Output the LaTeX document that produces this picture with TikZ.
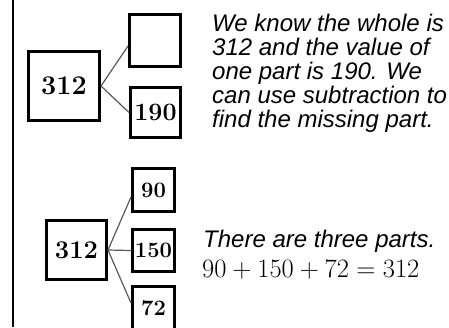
\documentclass[tikz,border=0pt]{standalone}
\usepackage{fontspec}
\newfontfamily\arialf{Liberation Sans}
\begin{document}
\begin{tikzpicture}[x=1pt,y=-1pt,
  numbox/.style={draw, line width=2.6pt, inner sep=0pt},
  link/.style={draw=black!65, line width=1.2pt},
  expl/.style={anchor=base west, inner sep=0pt, font=\arialf\itshape\fontsize{24}{24}\selectfont}]
\useasboundingbox (0,0) rectangle (449,327);
\draw[line width=1.5pt] (13,0) -- (13,327);

% top part-whole model
\node[numbox, minimum width=71.4pt, minimum height=69.4pt, font=\bfseries\fontsize{27}{27}\selectfont] (w1) at (64,86) {312};
\node[numbox, minimum width=51.4pt, minimum height=52.4pt] (p1) at (155,40.5) {};
\node[numbox, minimum width=50.4pt, minimum height=50.4pt, font=\bfseries\fontsize{25}{25}\selectfont] (p2) at (155.5,112.5) {190};
\draw[link] (w1.east) -- ([yshift=-5.5pt]p1.west);
\draw[link] (w1.east) -- (p2.west);

% bottom part-whole model
\node[numbox, minimum width=60.4pt, minimum height=59.4pt, font=\bfseries\fontsize{25.5}{25.5}\selectfont] (w2) at (76.5,250) {312};
\node[numbox, minimum width=42.4pt, minimum height=43.4pt, font=\bfseries\fontsize{22}{22}\selectfont] (q1) at (153.5,190) {90};
\node[numbox, minimum width=42.4pt, minimum height=42.4pt, font=\bfseries\fontsize{22}{22}\selectfont] (q2) at (153.5,250.5) {150};
\node[numbox, minimum width=42.4pt, minimum height=43.4pt, font=\bfseries\fontsize{22}{22}\selectfont] (q3) at (153.5,308) {72};
\draw[link] (w2.east) -- ([yshift=-7pt]q1.west);
\draw[link] (w2.east) -- (q2.west);
\draw[link] (w2.east) -- ([yshift=5pt]q3.west);

% explanations
\node[expl] (t1) at (212,31) {We know the whole is};
\node[expl] (t2) at (212,55) {312 and the value of};
\node[expl] (t3) at (212,79) {one part is 190. We};
\node[expl] (t4) at (212,103) {can use subtraction to};
\node[expl] (t5) at (212,127) {find the missing part.};
\node[expl] (t6) at (203,247) {There are three parts.};
\node[anchor=base west, inner sep=0pt, font=\fontsize{26.5}{27}\selectfont] (eq) at (202,277)
  {90{\kern.222em}+{\kern.222em}150{\kern.222em}+{\kern.222em}72{\kern.278em}={\kern.278em}312};
\end{tikzpicture}
\end{document}
